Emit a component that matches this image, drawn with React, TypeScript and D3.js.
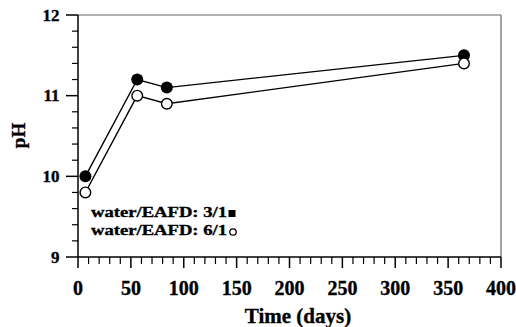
import React from "react";
import * as d3 from "d3";

const days = [7, 56, 84, 365];
const ph31 = [10.0, 11.2, 11.1, 11.5];
const ph61 = [9.8, 11.0, 10.9, 11.4];
const xTicks = [0, 50, 100, 150, 200, 250, 300, 350, 400];
const yTicks = [9, 10, 11, 12];
const legendLabels = ["water/EAFD: 3/1", "water/EAFD: 6/1"];

const W = 516, H = 327;
const M = { left: 78, top: 15, right: 501, bottom: 257 };

export default function App() {
  const x = d3.scaleLinear().domain([0, 400]).range([M.left, M.right]);
  const y = d3.scaleLinear().domain([9, 12]).range([M.bottom, M.top]);
  const line = d3.line<number>().x((_, i) => x(days[i])).y((d) => y(d));
  const xMinor = d3.range(0, 401, 10).filter((v) => v % 50 !== 0);
  const yMinor = d3.range(9, 12.001, 0.2).filter((v) => Math.abs(v - Math.round(v)) > 1e-6);
  const font = "'Liberation Serif', 'Times New Roman', serif";
  const ts = { stroke: "#000", strokeWidth: 0.35 };
  return (
    <svg width={W} height={H} style={{ position: "absolute", left: 0, top: 0 }} fontFamily={font}>
      <rect width={W} height={H} fill="white" />
      <line x1={M.left} x2={M.right} y1={M.top} y2={M.top} stroke="#666" strokeWidth={1.2} />
      <line x1={M.right} x2={M.right} y1={M.top} y2={M.bottom} stroke="#666" strokeWidth={1.2} />
      <line x1={M.left} x2={M.left} y1={M.top} y2={M.bottom} stroke="#000" strokeWidth={1.5} />
      <line x1={M.left} x2={M.right} y1={M.bottom} y2={M.bottom} stroke="#000" strokeWidth={1.5} />
      {xTicks.map((t) => (
        <g key={"xt" + t}>
          <line x1={x(t)} x2={x(t)} y1={M.bottom} y2={M.bottom + 11} stroke="#000" strokeWidth={1.5} />
          <text x={x(t)} y={295} textAnchor="middle" fontSize={20} fontWeight="bold" {...ts}>{t}</text>
        </g>
      ))}
      {xMinor.map((t) => (
        <line key={"xm" + t} x1={x(t)} x2={x(t)} y1={M.bottom} y2={M.bottom + 7} stroke="#000" strokeWidth={1.2} />
      ))}
      {yTicks.map((t) => (
        <g key={"yt" + t}>
          <line x1={M.left - 12} x2={M.left} y1={y(t)} y2={y(t)} stroke="#000" strokeWidth={1.5} />
          <text x={59.5} y={y(t) + 5.5} textAnchor="end" fontSize={17} fontWeight="bold" {...ts}>{t}</text>
        </g>
      ))}
      {yMinor.map((t) => (
        <line key={"ym" + t} x1={M.left - 6} x2={M.left} y1={y(t)} y2={y(t)} stroke="#000" strokeWidth={1.2} />
      ))}
      <text x={298} y={323} textAnchor="middle" fontSize={21} fontWeight="bold" {...ts}>Time (days)</text>
      <text transform={`translate(25,135.5) rotate(-90)`} textAnchor="middle" fontSize={19} fontWeight="bold" {...ts}>pH</text>
      <path d={line(ph31) || ""} fill="none" stroke="#000" strokeWidth={1.4} />
      <path d={line(ph61) || ""} fill="none" stroke="#000" strokeWidth={1.4} />
      {ph31.map((v, i) => (
        <circle key={"a" + i} cx={x(days[i])} cy={y(v)} r={6} fill="#000" />
      ))}
      {ph61.map((v, i) => (
        <circle key={"b" + i} cx={x(days[i])} cy={y(v)} r={5.3} fill="#fff" stroke="#000" strokeWidth={1.4} />
      ))}
      <text x={91} y={217.3} fontSize={14.5} fontWeight="bold" textLength={136} lengthAdjust="spacingAndGlyphs" {...ts}>{legendLabels[0]}</text>
      <rect x={228.5} y={210} width={7} height={7} fill="#000" />
      <text x={91} y={235} fontSize={14.5} fontWeight="bold" textLength={136} lengthAdjust="spacingAndGlyphs" {...ts}>{legendLabels[1]}</text>
      <circle cx={233} cy={232} r={3.2} fill="#fff" stroke="#000" strokeWidth={1.3} />
    </svg>
  );
}
